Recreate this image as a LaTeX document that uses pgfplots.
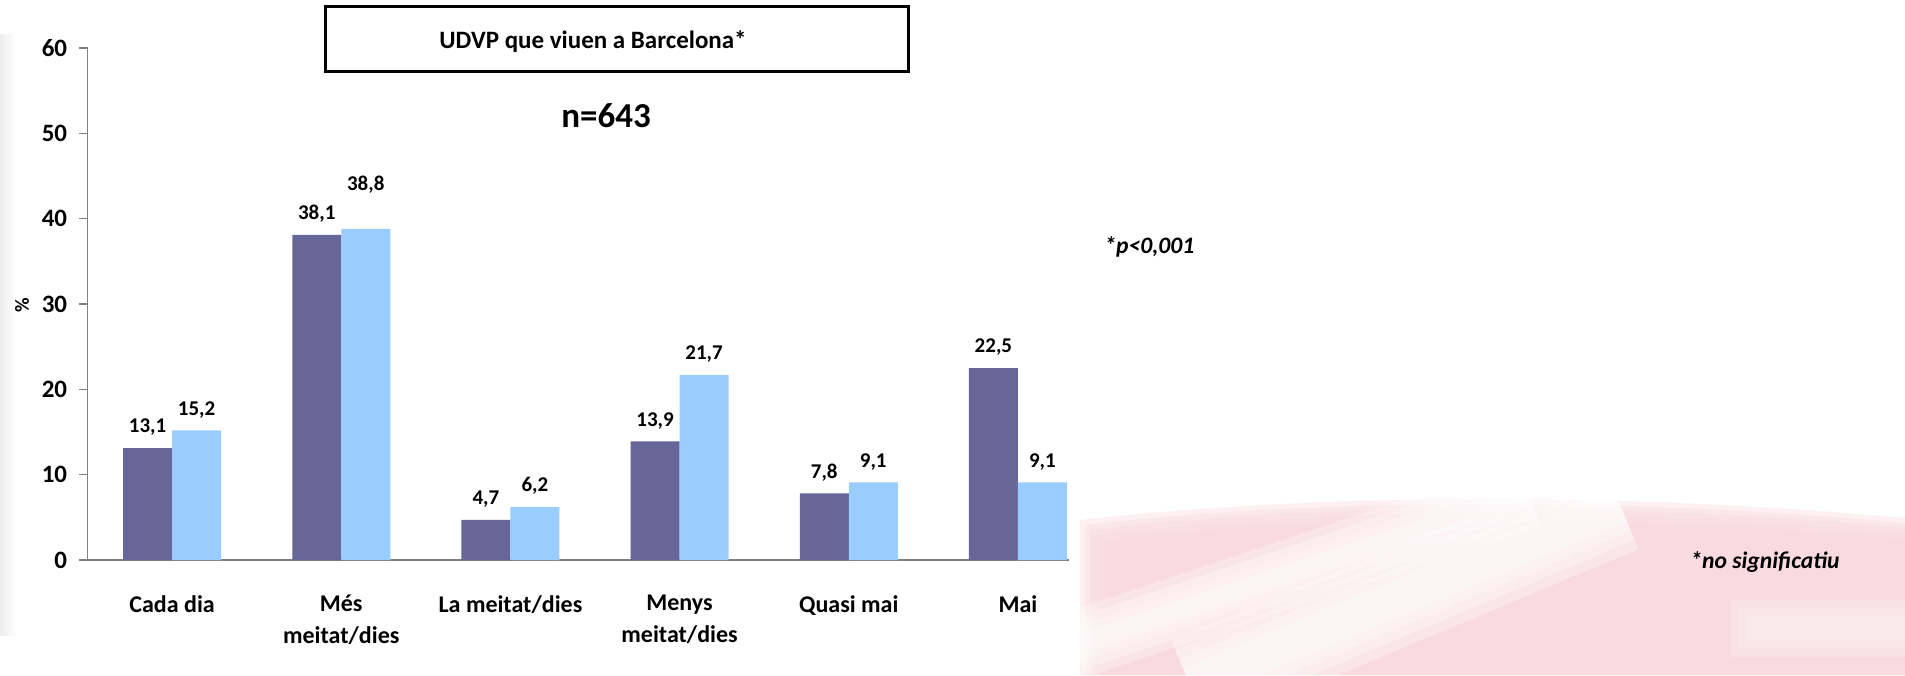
\documentclass[border=0pt]{standalone}
\usepackage{fontspec}
\setmainfont{Carlito}
\usepackage{pgfplots}
\pgfplotsset{compat=1.18}
\usepackage{pgfplotstable}

\definecolor{barDark}{HTML}{666699}
\definecolor{barLight}{HTML}{99CCFF}
\definecolor{bgPink}{HTML}{F8D8DD}
\definecolor{axisGray}{HTML}{7F7F7F}

% off = extra lift (pt) of the value label
\pgfplotstableread{
x dark light off
0 13.1 15.2 0
1 38.1 38.8 11.5
2 4.7  6.2  0
3 13.9 21.7 0
4 7.8  9.1  0
5 22.5 9.1  0
}\datatable

\begin{document}
\begin{tikzpicture}
% background, 1 unit = 1 px of the reference
\begin{scope}[x=0.5pt,y=0.5pt]
\useasboundingbox (0,0) rectangle (1905,675);
\shade[left color=black!7, right color=white] (0,40) rectangle (16,640);
\begin{scope}
\clip (1080,0) rectangle (1905,675);
\foreach \d in {0,5,...,25}
  \fill[bgPink, opacity=0.38] (1080+\d,0) -- (1080+\d,155-\d) .. controls (1300,180-\d) and (1600,185-\d) .. (1905,157-\d) -- (1905,0) -- cycle;
\foreach \w in {34,26,18,10}
  \draw[white, opacity=0.28, line width=\w pt] (1075,30) -- (1530,182);
\foreach \w in {48,38,28,18}
  \draw[white, opacity=0.3, line width=\w pt] (1190,-10) -- (1620,170);
\foreach \d in {0,8,16}
  \fill[white, opacity=0.18] (1730+\d,18+\d) rectangle (1905,75-\d);
\end{scope}
% title box and texts
\draw[line width=1.5pt] (325,603) rectangle (908,668);
\node[font=\fontsize{12.5}{15}\selectfont\bfseries] at (593,633) {UDVP que viuen a Barcelona*};
\node[font=\fontsize{17.5}{20}\selectfont\bfseries] at (606,559) {n=643};
\node[font=\fontsize{11.8}{13}\selectfont\bfseries\itshape, anchor=base west, inner sep=0pt] at (1104,421) {*p<0,001};
\node[font=\fontsize{11.8}{13}\selectfont\bfseries\itshape, anchor=base west, inner sep=0pt] at (1690,107) {*no significatiu};
\node[font=\fontsize{10}{12}\selectfont\bfseries, rotate=90] at (22,370) {\%};
\end{scope}

\begin{axis}[
  at={(43.75pt,57.5pt)}, anchor=south west,
  scale only axis, width=507.5pt, height=256pt,
  ybar, bar width=24.5pt, ybar=0pt,
  xmin=-0.5, xmax=5.5, ymin=0, ymax=60,
  ytick={0,10,...,60},
  xtick=data,
  xticklabels={Cada dia, Més\\meitat/dies, La meitat/dies, Menys\\meitat/dies, Quasi mai, Mai},
  axis x line*=bottom, axis y line*=left,
  axis line style={draw=axisGray, line width=0.75pt},
  x axis line style={shorten >=17pt},
  tick align=outside, major tick length=4.5pt,
  xtick style={draw=none},
  ytick style={draw=axisGray, line width=0.75pt},
  /pgf/number format/assume math mode=true,
  yticklabel style={font=\fontsize{12.5}{15}\selectfont\bfseries, inner sep=0pt, xshift=-5.5pt},
  xticklabel style={font=\fontsize{12}{16}\selectfont\bfseries, align=center, anchor=north, inner sep=0pt, yshift=-13pt},
  nodes near coords={\pgfmathprintnumber[fixed,fixed zerofill,precision=1,use comma]{\pgfplotspointmeta}},
  nodes near coords style={font=\fontsize{10.5}{12}\selectfont\bfseries, inner sep=0pt, anchor=south, yshift=6pt},
]
\addplot[fill=barDark, draw=none] table[x=x, y=dark] {\datatable};
\addplot[fill=barLight, draw=none,
  visualization depends on={\thisrow{off} \as \loff},
  every node near coord/.append style={yshift=\loff pt}] table[x=x, y=light] {\datatable};
\end{axis}
\end{tikzpicture}
\end{document}
